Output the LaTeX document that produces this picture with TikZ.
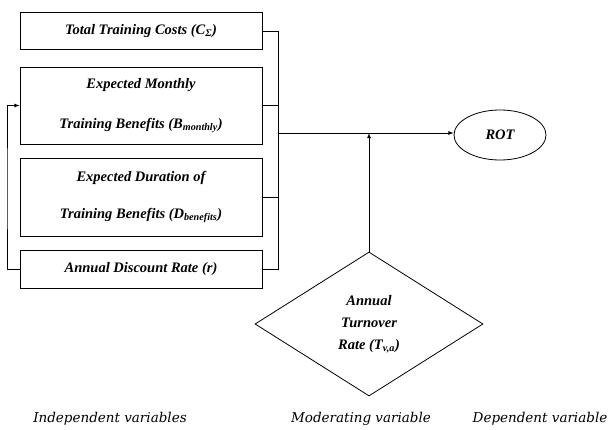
\documentclass[tikz,border=0pt]{standalone}
\usepackage{fontspec}
\setmainfont{Liberation Serif}
\newfontfamily\capfont{DejaVu Serif}
\usetikzlibrary{shapes.geometric}
\tikzset{
  varbox/.style={draw, line width=0.8pt, minimum width=242pt, inner sep=0pt,
    align=center, font=\fontsize{14.5}{17}\selectfont\bfseries\itshape},
  caption/.style={font=\capfont\fontsize{13.5}{16}\selectfont\itshape, inner sep=0pt},
  link/.style={line width=0.8pt},
}
\begin{document}
\begin{tikzpicture}[x=1pt, y=-1pt]
\useasboundingbox (0,0) rectangle (610,430);
% independent variables
\node[varbox, minimum height=37pt] (costs) at (141,31) {Total Training Costs (C\textsubscript{Σ})};
\node[varbox, minimum height=77pt] (monthly) at (141,105.5) {Expected Monthly\\[23pt]Training Benefits (B\textsubscript{monthly})};
\node[varbox, minimum height=78pt] (duration) at (141,197) {Expected Duration of\\[20pt]Training Benefits (D\textsubscript{benefits})};
\node[varbox, minimum height=38pt] (discount) at (141,269.5) {Annual Discount Rate (r)};
% dependent and moderating variables
\node[draw, link, ellipse, minimum width=92pt, minimum height=50pt, inner sep=0pt,
  font=\fontsize{14.5}{17}\selectfont\bfseries\itshape] (rot) at (500,135) {ROT};
\node[draw, link, diamond, minimum width=228pt, minimum height=144pt, inner sep=0pt,
  align=center, font=\fontsize{14.5}{22}\selectfont\bfseries\itshape] (turnover) at (369,324)
  {Annual\\Turnover\\Rate (T\textsubscript{v,a})};
% bus and arrows
\coordinate (bustop) at (278,31);
\coordinate (busmid) at (278,133);
\coordinate (loop) at (7,190);
\draw[link] (costs.east) -- (bustop) |- (discount.east);
\draw[link] (monthly.east) -- (monthly.east -| bustop);
\draw[link] (duration.east) -- (duration.east -| bustop);
\draw[link, -latex] (busmid) -- (rot.west |- busmid);
\draw[link, -latex] (turnover.north) -- (turnover.north |- busmid);
\draw[link, -latex] (discount.west) -| (loop) |- (monthly.west);
% captions
\node[caption] (indep) at (110,419) {Independent variables};
\node[caption] (moder) at (361,419) {Moderating variable};
\node[caption] (dep) at (540,419) {Dependent variable};
\end{tikzpicture}
\end{document}
